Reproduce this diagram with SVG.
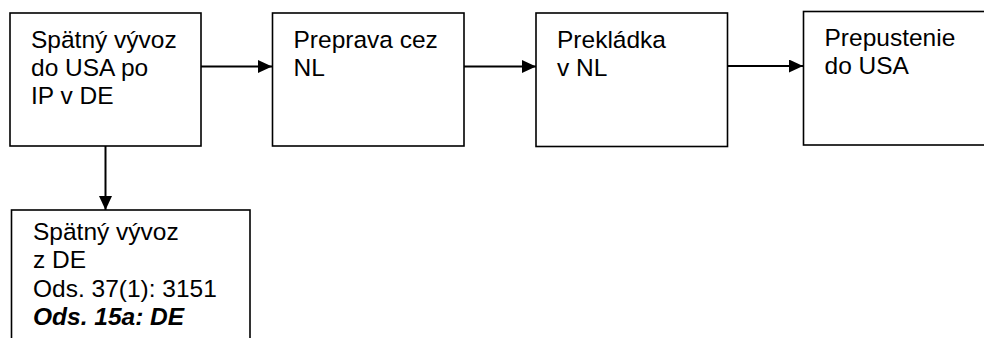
<svg xmlns="http://www.w3.org/2000/svg" width="984" height="338" viewBox="0 0 984 338">
<style>
.box{fill:#fff;stroke:#000;stroke-width:1.6}
.t{font-family:"Liberation Sans",Arial,sans-serif;font-size:24.5px;fill:#000}
.bi{font-weight:bold;font-style:italic}
.c{stroke:#000;stroke-width:2;fill:none}
</style>
<defs>
<marker id="ah" markerWidth="14" markerHeight="13" refX="14" refY="6.5" orient="auto" markerUnits="userSpaceOnUse">
<path d="M0,0 L14,6.5 L0,13 Z" fill="#000"/>
</marker>
</defs>
<g id="connectors">
<line class="c" x1="201" y1="66.5" x2="272" y2="66.5" marker-end="url(#ah)"/>
<line class="c" x1="464" y1="66.5" x2="536" y2="66.5" marker-end="url(#ah)"/>
<line class="c" x1="728" y1="66" x2="803" y2="66" marker-end="url(#ah)"/>
<line class="c" x1="105.5" y1="146" x2="105.5" y2="210" marker-end="url(#ah)"/>
</g>
<g id="n1">
<rect class="box" x="10" y="13" width="191" height="133"/>
<text class="t" x="31" y="48">Spätný vývoz</text>
<text class="t" x="31" y="76">do USA po</text>
<text class="t" x="31" y="104">IP v DE</text>
</g>
<g id="n2">
<rect class="box" x="272.5" y="13" width="191.5" height="133"/>
<text class="t" x="293.5" y="48">Preprava cez</text>
<text class="t" x="293.5" y="76">NL</text>
</g>
<g id="n3">
<rect class="box" x="536" y="13" width="191.5" height="133.5"/>
<text class="t" x="557" y="48">Prekládka</text>
<text class="t" x="557" y="76">v NL</text>
</g>
<g id="n4">
<rect class="box" x="803.5" y="11.5" width="200" height="133.5"/>
<text class="t" x="824.5" y="46">Prepustenie</text>
<text class="t" x="824.5" y="74">do USA</text>
</g>
<g id="n5">
<rect class="box" x="11.5" y="210" width="238.5" height="160"/>
<text class="t" x="33" y="240">Spätný vývoz</text>
<text class="t" x="33" y="268">z DE</text>
<text class="t" x="33" y="296.5">Ods. 37(1): 3151</text>
<text class="t bi" x="33" y="324.5">Ods. 15a: DE</text>
</g>
</svg>
